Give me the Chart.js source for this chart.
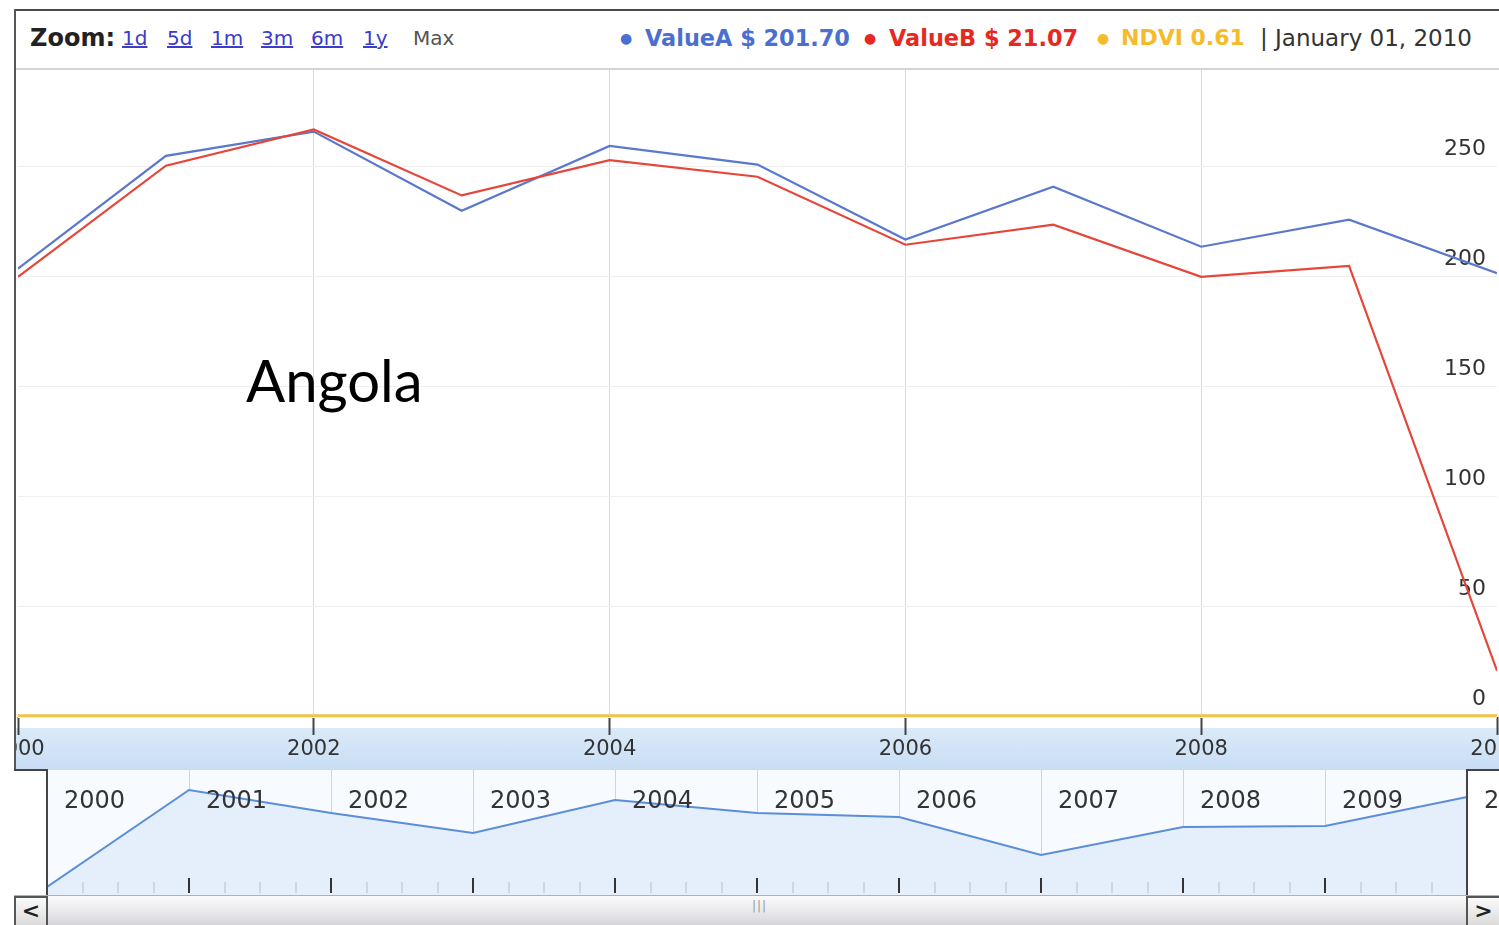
<!DOCTYPE html>
<html><head><meta charset="utf-8">
<script src="https://cdn.jsdelivr.net/npm/chart.js@4"></script>
<style>
body{margin:0;background:#fff;width:1499px;height:925px;overflow:hidden;position:relative;font-family:'DejaVu Sans',sans-serif;}
.abs{position:absolute;}
.hd{position:absolute;top:26px;height:24px;line-height:24px;white-space:nowrap;font-size:21px;}
.lk{color:#3c3cc8;text-decoration:underline;font-size:20px;}
.lg{font-weight:bold;font-size:22.4px;}
.dot{position:absolute;top:26px;height:24px;line-height:24px;font-size:14px;}
</style></head><body>
<!-- frame -->
<div class="abs" style="left:14px;top:9px;width:1485px;height:2px;background:#4a4a4a"></div>
<div class="abs" style="left:14px;top:9px;width:2px;height:762px;background:#555"></div>
<div class="abs" style="left:16px;top:68px;width:1483px;height:2px;background:#d4d4d4"></div>
<!-- header -->
<div class="hd" style="left:30px;font-weight:bold;font-size:24px;color:#222">Zoom:</div>
<div class="hd lk" style="left:122px">1d</div>
<div class="hd lk" style="left:167px">5d</div>
<div class="hd lk" style="left:211px">1m</div>
<div class="hd lk" style="left:261px">3m</div>
<div class="hd lk" style="left:311px">6m</div>
<div class="hd lk" style="left:363px">1y</div>
<div class="hd" style="left:413px;color:#555;font-size:20px">Max</div>
<div class="dot" style="left:620px;color:#4a6fd0">●</div>
<div class="hd lg" style="left:645px;color:#4a6fd0">ValueA $ 201.70</div>
<div class="dot" style="left:864px;color:#e6281e">●</div>
<div class="hd lg" style="left:889px;color:#e6281e">ValueB $ 21.07</div>
<div class="dot" style="left:1097px;color:#f5bb2a">●</div>
<div class="hd lg" style="left:1121px;color:#f5bb2a;font-size:22px">NDVI 0.61</div>
<div class="hd" style="left:1260px;color:#333;font-size:23px">| January 01, 2010</div>

<!-- main chart -->
<div class="abs" style="left:16px;top:70px;width:1483px;height:700px;overflow:hidden;">
  <div class="abs" style="left:0;top:658px;width:1483px;height:42px;background:linear-gradient(#dbeaf9,#c8ddf4)"></div>
  <canvas id="main" class="abs" style="left:-100px;top:0;width:1683px;height:700px" width="1683" height="700"></canvas>
</div>
<div class="abs" style="left:246px;top:351px;font-family:Lato,sans-serif;font-size:58px;line-height:58px;color:#000;white-space:nowrap">Angola</div>

<!-- navigator -->
<div class="abs" style="left:16px;top:770px;width:1483px;height:126px;overflow:hidden;">
  <div class="abs" style="left:31px;top:0;width:1420px;height:126px;background:#f7fbff"></div>
  <canvas id="nav" class="abs" style="left:31px;top:0;width:1452px;height:125px" width="1452" height="125"></canvas>
</div>
<div class="abs" style="left:14px;top:769px;width:34px;height:2px;background:#444"></div>
<div class="abs" style="left:46px;top:769px;width:2px;height:128px;background:#444"></div>
<div class="abs" style="left:1466px;top:769px;width:2px;height:128px;background:#444"></div>
<div class="abs" style="left:1466px;top:769px;width:33px;height:2px;background:#444"></div>

<!-- scrollbar -->
<div class="abs" style="left:14px;top:895px;width:1485px;height:30px;background:linear-gradient(#fbfbfb,#e6e6ea 60%,#d2d2d8);border-top:1px solid #b0b0b0"></div>
<div class="abs" style="left:14px;top:896px;width:34px;height:29px;border:2px solid #555;border-bottom:none;box-sizing:border-box;background:linear-gradient(#fafafa,#dcdcdc);font:bold 22px 'DejaVu Sans';line-height:26px;text-align:center;color:#222">&lt;</div>
<div class="abs" style="left:1466px;top:896px;width:33px;height:29px;border:2px solid #555;border-right:none;border-bottom:none;box-sizing:border-box;background:linear-gradient(#fafafa,#dcdcdc);font:bold 22px 'DejaVu Sans';line-height:26px;text-align:center;color:#222">&gt;</div>
<div class="abs" style="left:752px;top:899px;font:12px 'DejaVu Sans';color:#999;letter-spacing:1px">|||</div>

<script>
// ---- data ----
const years = [2000, 2001, 2002, 2003, 2004, 2005, 2006, 2007, 2008, 2009, 2010];
const valueA = [203.7, 255, 266, 230, 259.5, 251, 217, 241, 213.7, 226, 201.7];
const valueB = [200, 250.5, 267, 237, 253, 245.5, 214.6, 223.7, 200, 205, 21.07];
const ndvi = [0.61, 0.61, 0.61, 0.61, 0.61, 0.61, 0.61, 0.61, 0.61, 0.61, 0.61];
const axisYears = [2000, 2002, 2004, 2006, 2008, 2010];
const yTicks = [0, 50, 100, 150, 200, 250];
const navYears = [2000, 2001, 2002, 2003, 2004, 2005, 2006, 2007, 2008, 2009, 2010];
const navValues = [8, 105, 82, 62, 95, 82, 78, 40, 68, 69, 98];

const tickFont = {family: 'DejaVu Sans', size: 21};

new Chart(document.getElementById('main'), {
  type: 'line',
  data: {
    datasets: [
      {label: 'NDVI', data: years.map((x, i) => ({x, y: ndvi[i]})), borderColor: '#f2c24a', borderWidth: 3, pointRadius: 0, tension: 0, order: 0},
      {label: 'ValueB', data: years.map((x, i) => ({x, y: valueB[i]})), borderColor: '#e6463a', borderWidth: 2.2, pointRadius: 0, tension: 0, order: 1},
      {label: 'ValueA', data: years.map((x, i) => ({x, y: valueA[i]})), borderColor: '#5a78cc', borderWidth: 2.2, pointRadius: 0, tension: 0, order: 2}
    ]
  },
  options: {
    responsive: false, animation: false, devicePixelRatio: 1,
    layout: {padding: {left: 102, right: 102, top: 0, bottom: 0}},
    plugins: {legend: {display: false}, tooltip: {enabled: false}},
    scales: {
      x: {
        type: 'linear', min: 2000, max: 2010,
        afterBuildTicks: s => { s.ticks = axisYears.map(v => ({value: v})); },
        afterFit: s => { s.height = 53; },
        ticks: {callback: v => String(v), font: tickFont, color: '#333', padding: 2, maxRotation: 0, autoSkip: false},
        grid: {color: c => (c.tick && (c.tick.value === 2000 || c.tick.value === 2010)) ? 'rgba(0,0,0,0)' : '#dadada',
               tickColor: '#444', tickLength: 18, tickWidth: 2, lineWidth: 1},
        border: {display: false}
      },
      y: {
        position: 'right', min: 0, max: 294,
        afterBuildTicks: s => { s.ticks = yTicks.map(v => ({value: v})); },
        afterFit: s => { s.width = 0; s.paddingTop = 0; s.paddingBottom = 0; },
        ticks: {mirror: true, padding: -11, labelOffset: -18, font: {family: 'DejaVu Sans', size: 22}, color: '#333'},
        grid: {color: '#efefef', drawTicks: false},
        border: {display: false}
      }
    }
  }
});

const navDecor = {
  id: 'navDecor',
  afterDatasetsDraw(chart) {
    const ctx = chart.ctx, xs = chart.scales.x;
    ctx.save();
    navYears.forEach(y => {
      for (let q = 1; q < 4; q++) {
        const px = Math.round(xs.getPixelForValue(y + q / 4));
        ctx.fillStyle = '#cfd6de';
        ctx.fillRect(px - 1, 112, 2, 11);
      }
      const px = Math.round(xs.getPixelForValue(y));
      ctx.fillStyle = '#333';
      ctx.fillRect(px - 1, 108, 2, 15);
    });
    ctx.font = '24px "DejaVu Sans"';
    ctx.fillStyle = '#333';
    ctx.textBaseline = 'middle';
    navYears.forEach(y => ctx.fillText(String(y), xs.getPixelForValue(y) + 17, 32));
    ctx.restore();
  }
};

new Chart(document.getElementById('nav'), {
  type: 'line',
  data: {datasets: [{data: navYears.map((x, i) => ({x, y: navValues[i]})), borderColor: '#5a8ed6', borderWidth: 2,
    backgroundColor: '#e5effb', fill: 'origin', pointRadius: 0, tension: 0}]},
  options: {
    responsive: false, animation: false, devicePixelRatio: 1,
    layout: {padding: 0},
    plugins: {legend: {display: false}, tooltip: {enabled: false}},
    scales: {
      x: {type: 'linear', min: 2000, max: 2010.225,
          afterBuildTicks: s => { s.ticks = navYears.map(v => ({value: v})); },
          afterFit: s => { s.height = 0; },
          ticks: {display: false}, grid: {color: '#d4d4d4', drawTicks: false}, border: {display: false}},
      y: {min: 0, max: 125, display: false}
    }
  },
  plugins: [navDecor]
});
</script>
</body></html>
